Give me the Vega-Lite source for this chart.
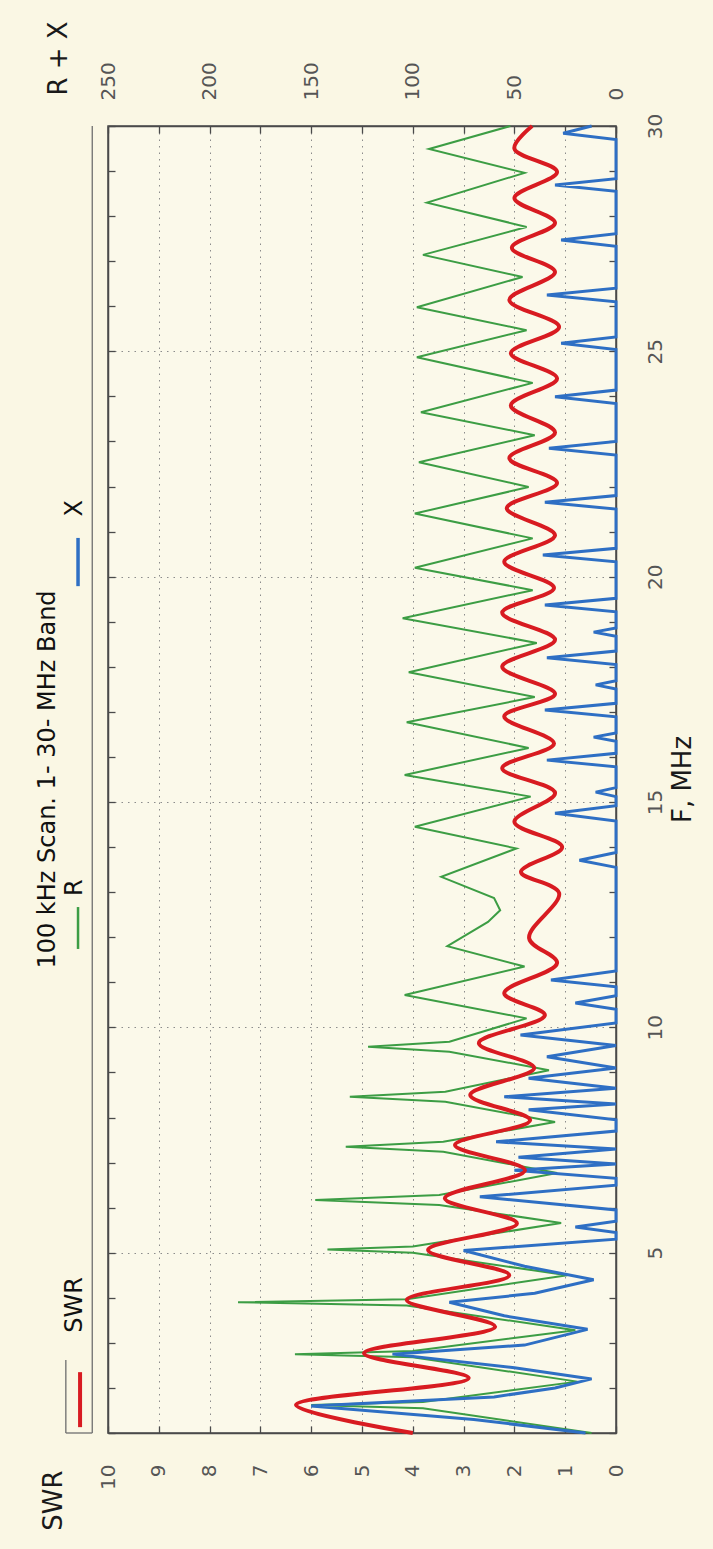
{
  "$schema": "https://vega.github.io/schema/vega-lite/v6.json",
  "width": 508,
  "height": 1307,
  "autosize": {"type": "none"},
  "padding": {"left": 108, "top": 126, "right": 97, "bottom": 116},
  "background": "#faf7e4",
  "config": {
    "view": {"stroke": "#4a4a4a", "strokeWidth": 1.5, "fill": "#fbf9ea"},
    "font": "DejaVu Sans",
    "axis": {
      "domainColor": "#4a4a4a", "domainWidth": 1.5,
      "tickColor": "#4a4a4a", "tickWidth": 1.3,
      "labelFont": "DejaVu Sans", "labelColor": "#555555", "labelFontSize": 20,
      "titleFont": "DejaVu Sans", "titleFontWeight": "normal", "titleColor": "#1a1a1a", "titleFontSize": 26,
      "gridColor": "#8c8c8c", "gridDash": [1.5, 5], "gridWidth": 1
    }
  },
  "title": {
    "text": "100 kHz Scan. 1- 30- MHz Band",
    "orient": "left", "anchor": "middle", "angle": -90, "offset": -20,
    "fontSize": 24, "fontWeight": "normal", "color": "#111111", "font": "DejaVu Sans"
  },
  "datasets": {
    "swr": [{"F":1.0,"SWR":4.0},{"F":1.62,"SWR":6.3},{"F":2.22,"SWR":2.9},{"F":2.77,"SWR":4.96},{"F":3.36,"SWR":2.38},{"F":3.95,"SWR":4.12},{"F":4.5,"SWR":2.1},{"F":5.06,"SWR":3.7},{"F":5.65,"SWR":1.95},{"F":6.21,"SWR":3.37},{"F":6.83,"SWR":1.79},{"F":7.39,"SWR":3.17},{"F":7.94,"SWR":1.69},{"F":8.5,"SWR":2.87},{"F":9.1,"SWR":1.61},{"F":9.65,"SWR":2.7},{"F":10.27,"SWR":1.4},{"F":10.76,"SWR":2.2},{"F":11.43,"SWR":1.16},{"F":11.98,"SWR":1.71},{"F":12.98,"SWR":1.12},{"F":13.45,"SWR":1.87},{"F":14.0,"SWR":1.06},{"F":14.56,"SWR":2.0},{"F":15.2,"SWR":1.2},{"F":15.75,"SWR":2.24},{"F":16.3,"SWR":1.22},{"F":16.9,"SWR":2.2},{"F":17.4,"SWR":1.2},{"F":18.0,"SWR":2.24},{"F":18.6,"SWR":1.2},{"F":19.2,"SWR":2.24},{"F":19.75,"SWR":1.22},{"F":20.33,"SWR":2.2},{"F":20.92,"SWR":1.2},{"F":21.52,"SWR":2.15},{"F":22.08,"SWR":1.16},{"F":22.63,"SWR":2.1},{"F":23.2,"SWR":1.2},{"F":23.8,"SWR":2.07},{"F":24.4,"SWR":1.16},{"F":24.96,"SWR":2.07},{"F":25.54,"SWR":1.12},{"F":26.14,"SWR":2.1},{"F":26.76,"SWR":1.2},{"F":27.3,"SWR":2.05},{"F":27.85,"SWR":1.2},{"F":28.4,"SWR":2.0},{"F":28.98,"SWR":1.16},{"F":29.5,"SWR":2.0},{"F":30.0,"SWR":1.65}],
    "r": [{"F":1.0,"R":12},{"F":1.55,"R":95},{"F":1.62,"R":150},{"F":1.69,"R":95},{"F":2.14,"R":19},{"F":2.68,"R":100},{"F":2.75,"R":158},{"F":2.82,"R":100},{"F":3.28,"R":20},{"F":3.83,"R":103},{"F":3.9,"R":186},{"F":3.97,"R":103},{"F":4.5,"R":24},{"F":5.0,"R":100},{"F":5.07,"R":142},{"F":5.14,"R":100},{"F":5.66,"R":27},{"F":6.06,"R":87},{"F":6.17,"R":148},{"F":6.28,"R":87},{"F":6.77,"R":29},{"F":7.24,"R":85},{"F":7.35,"R":133},{"F":7.46,"R":85},{"F":7.9,"R":30},{"F":8.35,"R":84},{"F":8.46,"R":131},{"F":8.57,"R":84},{"F":9.05,"R":33},{"F":9.46,"R":82},{"F":9.57,"R":122},{"F":9.68,"R":82},{"F":10.2,"R":44},{"F":10.72,"R":104},{"F":11.35,"R":45},{"F":11.8,"R":83},{"F":12.34,"R":63},{"F":12.6,"R":57},{"F":12.87,"R":60},{"F":13.34,"R":86},{"F":13.97,"R":49},{"F":14.45,"R":99},{"F":15.12,"R":42},{"F":15.6,"R":104},{"F":16.2,"R":43},{"F":16.77,"R":103},{"F":17.33,"R":40},{"F":17.88,"R":102},{"F":18.53,"R":39},{"F":19.08,"R":105},{"F":19.7,"R":41},{"F":20.2,"R":99},{"F":20.85,"R":41},{"F":21.4,"R":99},{"F":21.99,"R":43},{"F":22.54,"R":97},{"F":23.14,"R":40},{"F":23.65,"R":96},{"F":24.3,"R":41},{"F":24.87,"R":98},{"F":25.47,"R":44},{"F":25.98,"R":98},{"F":26.65,"R":46},{"F":27.14,"R":95},{"F":27.76,"R":44},{"F":28.3,"R":93},{"F":28.96,"R":45},{"F":29.49,"R":92},{"F":30.0,"R":52}],
    "x": [{"F":1.0,"X":15},{"F":1.3,"X":70},{"F":1.6,"X":150},{"F":1.8,"X":60},{"F":2.0,"X":30},{"F":2.2,"X":12},{"F":2.45,"X":50},{"F":2.75,"X":110},{"F":2.95,"X":45},{"F":3.3,"X":14},{"F":3.6,"X":55},{"F":3.9,"X":82},{"F":4.1,"X":40},{"F":4.4,"X":11},{"F":4.7,"X":45},{"F":5.05,"X":75},{"F":5.3,"X":0},{"F":5.45,"X":0},{"F":5.57,"X":20},{"F":5.7,"X":0},{"F":5.95,"X":0},{"F":6.24,"X":67},{"F":6.5,"X":0},{"F":6.65,"X":0},{"F":6.83,"X":50},{"F":6.97,"X":0},{"F":7.12,"X":48},{"F":7.3,"X":0},{"F":7.46,"X":59},{"F":7.7,"X":0},{"F":7.95,"X":0},{"F":8.17,"X":43},{"F":8.3,"X":0},{"F":8.46,"X":55},{"F":8.65,"X":0},{"F":8.87,"X":43},{"F":9.1,"X":0},{"F":9.35,"X":34},{"F":9.6,"X":0},{"F":9.83,"X":47},{"F":10.1,"X":0},{"F":10.4,"X":0},{"F":10.54,"X":20},{"F":10.7,"X":0},{"F":10.9,"X":0},{"F":11.05,"X":32},{"F":11.25,"X":0},{"F":13.55,"X":0},{"F":13.71,"X":18},{"F":13.88,"X":0},{"F":14.58,"X":0},{"F":14.75,"X":30},{"F":14.92,"X":0},{"F":15.12,"X":0},{"F":15.22,"X":10},{"F":15.32,"X":0},{"F":15.78,"X":0},{"F":15.93,"X":34},{"F":16.08,"X":0},{"F":16.35,"X":0},{"F":16.44,"X":11},{"F":16.53,"X":0},{"F":16.89,"X":0},{"F":17.04,"X":35},{"F":17.19,"X":0},{"F":17.51,"X":0},{"F":17.6,"X":10},{"F":17.69,"X":0},{"F":18.05,"X":0},{"F":18.2,"X":34},{"F":18.35,"X":0},{"F":18.68,"X":0},{"F":18.77,"X":11},{"F":18.86,"X":0},{"F":19.22,"X":0},{"F":19.37,"X":35},{"F":19.52,"X":0},{"F":20.33,"X":0},{"F":20.48,"X":36},{"F":20.63,"X":0},{"F":21.5,"X":0},{"F":21.65,"X":35},{"F":21.8,"X":0},{"F":22.7,"X":0},{"F":22.85,"X":33},{"F":23.0,"X":0},{"F":23.84,"X":0},{"F":23.99,"X":30},{"F":24.14,"X":0},{"F":25.04,"X":0},{"F":25.18,"X":27},{"F":25.32,"X":0},{"F":26.1,"X":0},{"F":26.25,"X":34},{"F":26.4,"X":0},{"F":27.33,"X":0},{"F":27.47,"X":27},{"F":27.61,"X":0},{"F":28.55,"X":0},{"F":28.69,"X":30},{"F":28.83,"X":0},{"F":29.7,"X":0},{"F":29.84,"X":26},{"F":30.0,"X":12}]
  },
  "resolve": {"scale": {"x": "independent"}, "axis": {"x": "independent", "y": "independent"}},
  "layer": [
    {
      "data": {"name": "r"},
      "mark": {"type": "line", "color": "#3c9d44", "strokeWidth": 2},
      "encoding": {
        "x": {"field": "R", "type": "quantitative",
              "scale": {"domain": [0, 250], "reverse": true, "nice": false, "zero": false},
              "axis": {"orient": "top", "values": [0,25,50,75,100,125,150,175,200,225,250],
                       "labelExpr": "datum.value % 50 === 0 ? datum.label : ''",
                       "labelAngle": -90, "tickSize": -7, "labelPadding": 33, "grid": false,
                       "title": "R + X", "titleAngle": -90, "titleX": -50, "titleY": -68,
                       "titleAlign": "center", "titleBaseline": "middle"}},
        "y": {"field": "F", "type": "quantitative",
              "scale": {"domain": [1, 30], "nice": false, "zero": false},
              "axis": {"orient": "left", "values": [1,2,3,4,5,6,7,8,9,10,11,12,13,14,15,16,17,18,19,20,21,22,23,24,25,26,27,28,29,30],
                       "labels": false, "tickSize": -7, "grid": false, "title": null}},
        "order": {"field": "F", "type": "quantitative"}
      }
    },
    {
      "data": {"name": "x"},
      "mark": {"type": "line", "color": "#2e6fc4", "strokeWidth": 3},
      "encoding": {
        "x": {"field": "X", "type": "quantitative",
              "scale": {"domain": [0, 250], "reverse": true, "nice": false, "zero": false}, "axis": null},
        "y": {"field": "F", "type": "quantitative",
              "scale": {"domain": [1, 30], "nice": false, "zero": false}, "axis": null},
        "order": {"field": "F", "type": "quantitative"}
      }
    },
    {
      "data": {"name": "swr"},
      "mark": {"type": "line", "color": "#d81b21", "strokeWidth": 4, "interpolate": "catmull-rom"},
      "encoding": {
        "x": {"field": "SWR", "type": "quantitative",
              "scale": {"domain": [0, 10], "reverse": true, "nice": false, "zero": false},
              "axis": {"orient": "bottom", "values": [0,1,2,3,4,5,6,7,8,9,10],
                       "labelAngle": -90, "tickSize": -7, "labelPadding": 38, "grid": true,
                       "title": "SWR", "titleAngle": -90, "titleX": -55, "titleY": 67,
                       "titleAlign": "center", "titleBaseline": "middle"}},
        "y": {"field": "F", "type": "quantitative",
              "scale": {"domain": [1, 30], "nice": false, "zero": false},
              "axis": {"orient": "right", "values": [1,2,3,4,5,6,7,8,9,10,11,12,13,14,15,16,17,18,19,20,21,22,23,24,25,26,27,28,29,30],
                       "labelExpr": "datum.value % 5 === 0 ? datum.label : ''",
                       "labelAngle": -90, "tickSize": -7, "labelPadding": 36, "grid": true,
                       "gridOpacity": {"condition": {"test": "datum.value % 5 === 0", "value": 1}, "value": 0},
                       "title": "F, MHz", "titleAngle": -90, "titleX": 66, "titleY": 653,
                       "titleAlign": "center", "titleBaseline": "middle"}},
        "order": {"field": "F", "type": "quantitative"}
      }
    },
    {
      "data": {"values": [{"series": "frame"}]},
      "mark": {"type": "rule", "color": "#6e6e6e", "strokeWidth": 1.3},
      "encoding": {
        "x": {"datum": 10.31, "type": "quantitative", "scale": {"domain": [0, 10], "reverse": true, "nice": false, "zero": false}, "axis": null},
        "y": {"datum": 1, "type": "quantitative", "scale": {"domain": [1, 30], "nice": false, "zero": false}, "axis": null},
        "y2": {"datum": 30}
      }
    },
    {
      "data": {"values": [{"series": "frame"}]},
      "mark": {"type": "rule", "color": "#6e6e6e", "strokeWidth": 1.3},
      "encoding": {
        "x": {"datum": 10.83, "type": "quantitative", "scale": {"domain": [0, 10], "reverse": true, "nice": false, "zero": false}, "axis": null},
        "y": {"datum": 1, "type": "quantitative", "scale": {"domain": [1, 30], "nice": false, "zero": false}, "axis": null},
        "y2": {"datum": 2.62}
      }
    },
    {
      "data": {"values": [{"series": "frame"}]},
      "mark": {"type": "rule", "color": "#6e6e6e", "strokeWidth": 1.3},
      "encoding": {
        "x": {"datum": 10.31, "type": "quantitative", "scale": {"domain": [0, 10], "reverse": true, "nice": false, "zero": false}, "axis": null},
        "x2": {"datum": 10.83},
        "y": {"datum": 1, "type": "quantitative", "scale": {"domain": [1, 30], "nice": false, "zero": false}, "axis": null}
      }
    },
    {
      "data": {"values": [{"series": "SWR"}]},
      "mark": {"type": "rule", "color": "#d81b21", "strokeWidth": 4},
      "encoding": {
        "x": {"datum": 10.55, "type": "quantitative", "scale": {"domain": [0, 10], "reverse": true, "nice": false, "zero": false}, "axis": null},
        "y": {"datum": 1.13, "type": "quantitative", "scale": {"domain": [1, 30], "nice": false, "zero": false}, "axis": null},
        "y2": {"datum": 2.35}
      }
    },
    {
      "data": {"values": [{"series": "R"}]},
      "mark": {"type": "rule", "color": "#3c9d44", "strokeWidth": 2.5},
      "encoding": {
        "x": {"datum": 10.59, "type": "quantitative", "scale": {"domain": [0, 10], "reverse": true, "nice": false, "zero": false}, "axis": null},
        "y": {"datum": 11.74, "type": "quantitative", "scale": {"domain": [1, 30], "nice": false, "zero": false}, "axis": null},
        "y2": {"datum": 12.67}
      }
    },
    {
      "data": {"values": [{"series": "X"}]},
      "mark": {"type": "rule", "color": "#2e6fc4", "strokeWidth": 3.5},
      "encoding": {
        "x": {"datum": 10.59, "type": "quantitative", "scale": {"domain": [0, 10], "reverse": true, "nice": false, "zero": false}, "axis": null},
        "y": {"datum": 19.79, "type": "quantitative", "scale": {"domain": [1, 30], "nice": false, "zero": false}, "axis": null},
        "y2": {"datum": 20.86}
      }
    },
    {
      "data": {"values": [{"series": "SWR"}]},
      "mark": {"type": "text", "angle": -90, "align": "center", "baseline": "middle", "fontSize": 24, "color": "#111111", "font": "DejaVu Sans"},
      "encoding": {
        "text": {"field": "series"},
        "x": {"datum": 10.64, "type": "quantitative", "scale": {"domain": [0, 10], "reverse": true, "nice": false, "zero": false}, "axis": null},
        "y": {"datum": 3.84, "type": "quantitative", "scale": {"domain": [1, 30], "nice": false, "zero": false}, "axis": null}
      }
    },
    {
      "data": {"values": [{"series": "R"}]},
      "mark": {"type": "text", "angle": -90, "align": "center", "baseline": "middle", "fontSize": 24, "color": "#111111", "font": "DejaVu Sans"},
      "encoding": {
        "text": {"field": "series"},
        "x": {"datum": 10.64, "type": "quantitative", "scale": {"domain": [0, 10], "reverse": true, "nice": false, "zero": false}, "axis": null},
        "y": {"datum": 13.1, "type": "quantitative", "scale": {"domain": [1, 30], "nice": false, "zero": false}, "axis": null}
      }
    },
    {
      "data": {"values": [{"series": "X"}]},
      "mark": {"type": "text", "angle": -90, "align": "center", "baseline": "middle", "fontSize": 24, "color": "#111111", "font": "DejaVu Sans"},
      "encoding": {
        "text": {"field": "series"},
        "x": {"datum": 10.64, "type": "quantitative", "scale": {"domain": [0, 10], "reverse": true, "nice": false, "zero": false}, "axis": null},
        "y": {"datum": 21.52, "type": "quantitative", "scale": {"domain": [1, 30], "nice": false, "zero": false}, "axis": null}
      }
    }
  ]
}
